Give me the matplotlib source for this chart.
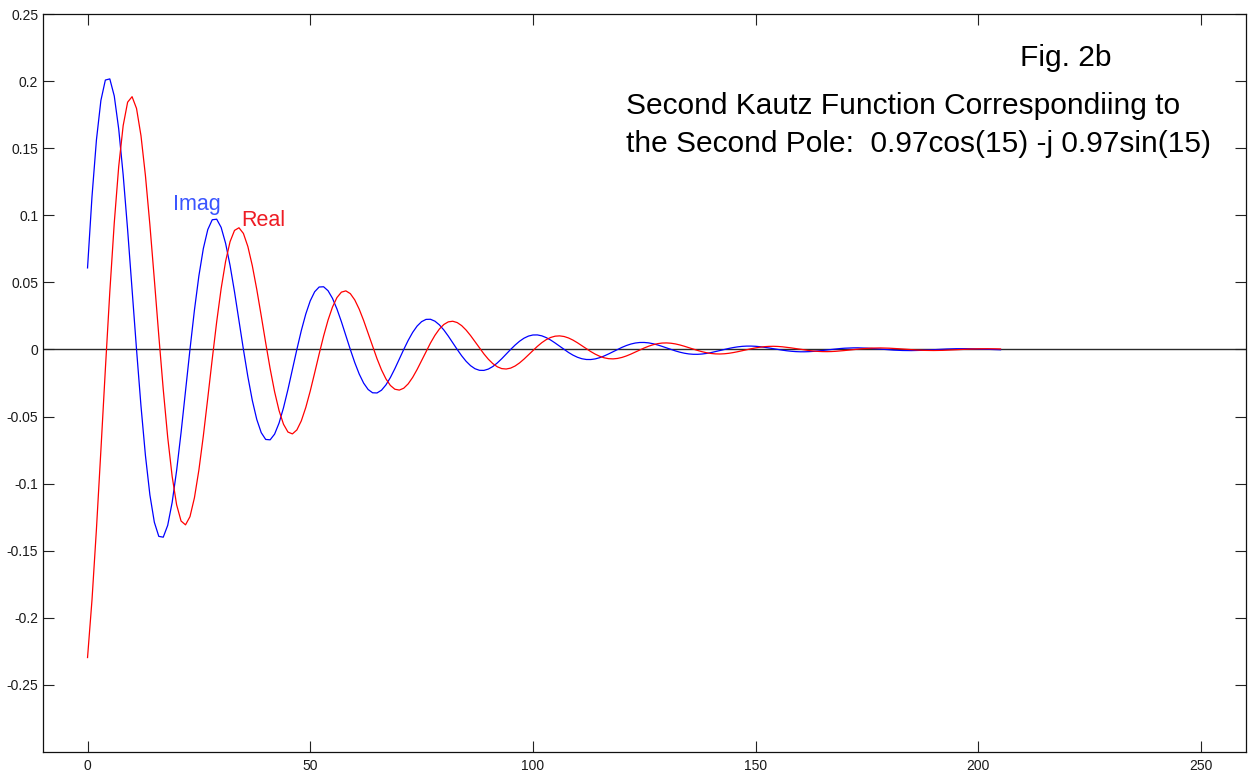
import numpy as np
import matplotlib
matplotlib.use("Agg")
import matplotlib.pyplot as plt

plt.rcParams['font.family'] = ['Liberation Sans', 'DejaVu Sans']

# Imaginary part of the second Kautz function, one value per sample (n = 0 .. 205)
imag_part = [
    0.06077, 0.11388, 0.15621, 0.18558, 0.20078, 0.20163, 0.18891, 0.16429,
    0.13012, 0.08925, 0.04481, 0.0, -0.04216, -0.07902, -0.10839, -0.12877,
    -0.13931, -0.13990, -0.13107, -0.11399, -0.09028, -0.06193, -0.03109, 0.0,
    0.02926, 0.05482, 0.07520, 0.08934, 0.09666, 0.09707, 0.09094, 0.07909,
    0.06264, 0.04297, 0.02157, 0.0, -0.02030, -0.03804, -0.05218, -0.06199,
    -0.06707, -0.06735, -0.06310, -0.05488, -0.04346, -0.02981, -0.01497, 0.0,
    0.01408, 0.02639, 0.03620, 0.04301, 0.04653, 0.04673, 0.04378, 0.03808,
    0.03016, 0.02068, 0.01039, 0.0, -0.00977, -0.01831, -0.02512, -0.02984,
    -0.03229, -0.03242, -0.03038, -0.02642, -0.02092, -0.01435, -0.00721, 0.0,
    0.00678, 0.01271, 0.01743, 0.02071, 0.02240, 0.02250, 0.02108, 0.01833,
    0.01452, 0.00996, 0.00500, 0.0, -0.00470, -0.00882, -0.01209, -0.01437,
    -0.01554, -0.01561, -0.01462, -0.01272, -0.01007, -0.00691, -0.00347, 0.0,
    0.00326, 0.00612, 0.00839, 0.00997, 0.01078, 0.01083, 0.01015, 0.00882,
    0.00699, 0.00479, 0.00241, 0.0, -0.00226, -0.00424, -0.00582, -0.00692,
    -0.00748, -0.00751, -0.00704, -0.00612, -0.00485, -0.00333, -0.00167, 0.0,
    0.00157, 0.00294, 0.00404, 0.00480, 0.00519, 0.00521, 0.00489, 0.00425,
    0.00336, 0.00231, 0.00116, 0.0, -0.00109, -0.00204, -0.00280, -0.00333,
    -0.00360, -0.00362, -0.00339, -0.00295, -0.00233, -0.00160, -0.00080, 0.0,
    0.00076, 0.00142, 0.00194, 0.00231, 0.00250, 0.00251, 0.00235, 0.00205,
    0.00162, 0.00111, 0.00056, 0.0, -0.00052, -0.00098, -0.00135, -0.00160,
    -0.00173, -0.00174, -0.00163, -0.00142, -0.00112, -0.00077, -0.00039, 0.0,
    0.00036, 0.00068, 0.00094, 0.00111, 0.00120, 0.00121, 0.00113, 0.00098,
    0.00078, 0.00053, 0.00027, 0.0, -0.00025, -0.00047, -0.00065, -0.00077,
    -0.00083, -0.00084, -0.00079, -0.00068, -0.00054, -0.00037, -0.00019, 0.0,
    0.00018, 0.00033, 0.00045, 0.00054, 0.00058, 0.00058, 0.00055, 0.00047,
    0.00038, 0.00026, 0.00013, 0.0, -0.00012, -0.00023,
]

# Real part of the second Kautz function, one value per sample (n = 0 .. 205)
real_part = [
    -0.22961, -0.18669, -0.13383, -0.07509, -0.01482, 0.04289, 0.09431, 0.13637,
    0.16683, 0.18429, 0.18838, 0.17960, 0.15931, 0.12954, 0.09286, 0.05210,
    0.01028, -0.02976, -0.06544, -0.09462, -0.11575, -0.12786, -0.13071, -0.12461,
    -0.11054, -0.08988, -0.06443, -0.03615, -0.00713, 0.02065, 0.04540, 0.06565,
    0.08032, 0.08872, 0.09069, 0.08646, 0.07669, 0.06236, 0.04470, 0.02508,
    0.00495, -0.01433, -0.03150, -0.04555, -0.05572, -0.06155, -0.06293, -0.05999,
    -0.05321, -0.04327, -0.03102, -0.01740, -0.00343, 0.00994, 0.02186, 0.03161,
    0.03867, 0.04271, 0.04366, 0.04162, 0.03692, 0.03002, 0.02152, 0.01207,
    0.00238, -0.00690, -0.01517, -0.02193, -0.02683, -0.02963, -0.03029, -0.02888,
    -0.02562, -0.02083, -0.01493, -0.00838, -0.00165, 0.00479, 0.01052, 0.01522,
    0.01861, 0.02056, 0.02102, 0.02004, 0.01777, 0.01445, 0.01036, 0.00581,
    0.00115, -0.00332, -0.00730, -0.01056, -0.01291, -0.01427, -0.01458, -0.01390,
    -0.01233, -0.01003, -0.00719, -0.00403, -0.00080, 0.00230, 0.00507, 0.00733,
    0.00896, 0.00990, 0.01012, 0.00965, 0.00856, 0.00696, 0.00499, 0.00280,
    0.00055, -0.00160, -0.00351, -0.00508, -0.00622, -0.00687, -0.00702, -0.00669,
    -0.00594, -0.00483, -0.00346, -0.00194, -0.00038, 0.00111, 0.00244, 0.00353,
    0.00431, 0.00477, 0.00487, 0.00464, 0.00412, 0.00335, 0.00240, 0.00135,
    0.00027, -0.00077, -0.00169, -0.00245, -0.00299, -0.00331, -0.00338, -0.00322,
    -0.00286, -0.00232, -0.00167, -0.00093, -0.00018, 0.00053, 0.00117, 0.00170,
    0.00208, 0.00229, 0.00235, 0.00224, 0.00198, 0.00161, 0.00116, 0.00065,
    0.00013, -0.00037, -0.00081, -0.00118, -0.00144, -0.00159, -0.00163, -0.00155,
    -0.00138, -0.00112, -0.00080, -0.00045, -0.00009, 0.00026, 0.00057, 0.00082,
    0.00100, 0.00110, 0.00113, 0.00108, 0.00095, 0.00078, 0.00056, 0.00031,
    0.00006, -0.00018, -0.00039, -0.00057, -0.00069, -0.00077, -0.00078, -0.00075,
    -0.00066, -0.00054, -0.00039, -0.00022, -0.00004, 0.00012, 0.00027, 0.00039,
    0.00048, 0.00053, 0.00054, 0.00052, 0.00046, 0.00037,
]

x_ticks = [0, 50, 100, 150, 200, 250]
x_tick_labels = ["0", "50", "100", "150", "200", "250"]
y_ticks = [-0.25, -0.2, -0.15, -0.1, -0.05, 0, 0.05, 0.1, 0.15, 0.2, 0.25]
y_tick_labels = ["-0.25", "-0.2", "-0.15", "-0.1", "-0.05", "0",
                 "0.05", "0.1", "0.15", "0.2", "0.25"]

title_lines = ["Fig. 2b",
               "Second Kautz Function Correspondiing to",
               "the Second Pole:  0.97cos(15) -j 0.97sin(15)"]

W, H = 1252, 778
fig = plt.figure(figsize=(W / 100, H / 100), dpi=100)
fig.patch.set_facecolor("white")

left_px, right_px, top_px, bottom_px = 43, 1245.5, 14, 752
ax = fig.add_axes([left_px / W, 1 - bottom_px / H,
                   (right_px - left_px) / W, (bottom_px - top_px) / H])

n_imag = np.arange(len(imag_part))
n_real = np.arange(len(real_part))

ax.axhline(0, color="#2a2a2a", lw=1.0, zorder=1)
ax.plot(n_imag, imag_part, color="#0000ff", lw=0.9, zorder=2)
ax.plot(n_real, real_part, color="#ff0000", lw=0.9, zorder=2)

ax.set_xlim(-10, 260)
ax.set_ylim(-0.3, 0.25)
ax.set_xticks(x_ticks)
ax.set_xticklabels(x_tick_labels)
ax.set_yticks(y_ticks)
ax.set_yticklabels(y_tick_labels)

ax.tick_params(direction="in", length=8, width=0.8, color="#222222",
               labelsize=10, labelcolor="#1a1a1a",
               top=True, right=True)
ax.tick_params(axis="x", pad=5)
ax.tick_params(axis="y", pad=3.5)
for sp in ax.spines.values():
    sp.set_color("#111111")
    sp.set_linewidth(0.9)

# Curve labels
ax.text(173 / W, 1 - 210 / H, "Imag", transform=fig.transFigure,
        color="#3a55ff", fontsize=15.5, va="baseline", ha="left")
ax.text(241.5 / W, 1 - 225.5 / H, "Real", transform=fig.transFigure,
        color="#ee1c24", fontsize=15.5, va="baseline", ha="left")

# Title block
fig.text(1020 / W, 1 - 65.5 / H, title_lines[0], fontsize=21.5,
         color="black", va="baseline", ha="left")
fig.text(626 / W, 1 - 113.5 / H, title_lines[1], fontsize=21.5,
         color="black", va="baseline", ha="left")
fig.text(626 / W, 1 - 151.5 / H, title_lines[2], fontsize=21.5,
         color="black", va="baseline", ha="left")

fig.savefig("out.png", dpi=100, facecolor="white")
